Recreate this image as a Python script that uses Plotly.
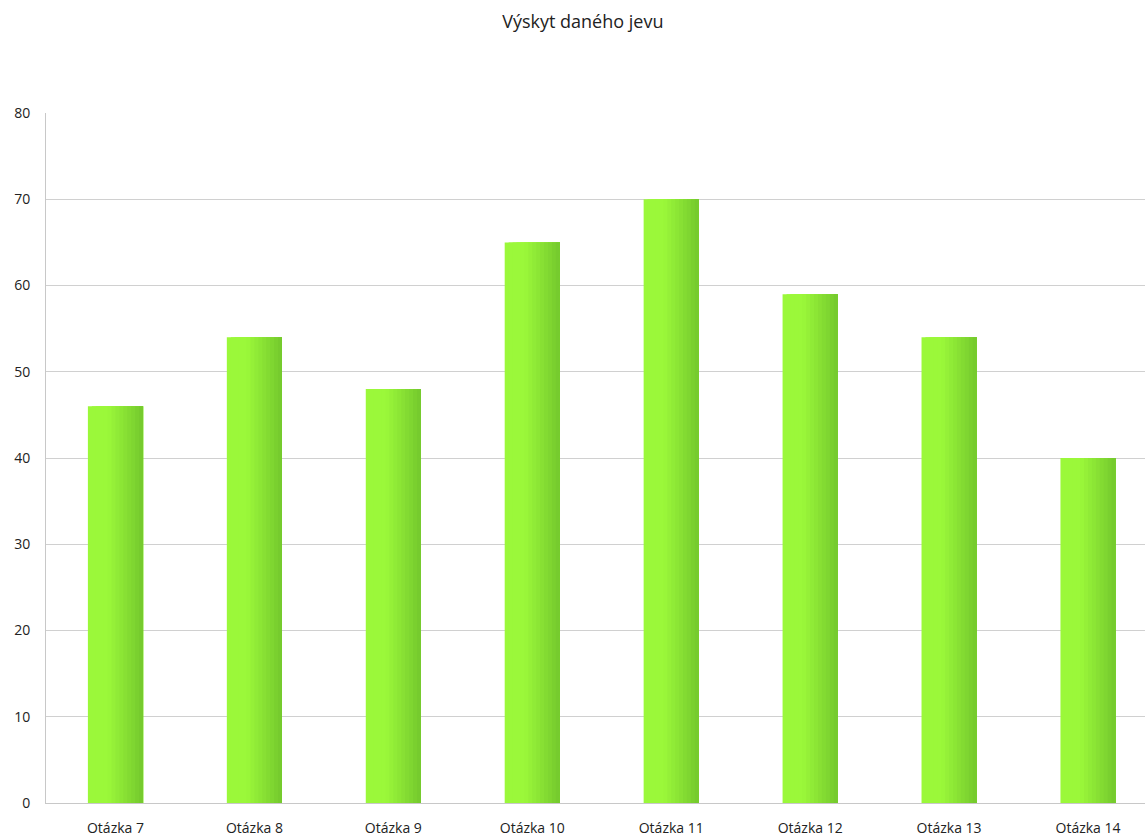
import plotly.graph_objects as go

categories = ["Otázka 7", "Otázka 8", "Otázka 9", "Otázka 10", "Otázka 11", "Otázka 12", "Otázka 13", "Otázka 14"]
values = [46, 54, 48, 65, 70, 59, 54, 40]
y_ticks = [0, 10, 20, 30, 40, 50, 60, 70, 80]

# horizontal gradient emulated by overlaid slices, each extending to the bar's right edge
light = (0x9B, 0xF8, 0x3A)
dark = (0x76, 0xCB, 0x2E)
n_slices = 14
bar_width = 0.397

fig = go.Figure()
for i in range(n_slices):
    t = i / (n_slices - 1)
    f = 0 if t < 0.35 else (t - 0.35) / 0.65
    c = tuple(round(light[k] + (dark[k] - light[k]) * f) for k in range(3))
    w = bar_width / n_slices
    fig.add_trace(go.Bar(
        x=categories, y=values,
        width=bar_width - i * w, offset=-bar_width / 2 + i * w,
        marker=dict(color="rgb(%d,%d,%d)" % c, line=dict(width=0)),
        showlegend=False, hoverinfo="skip" if i else "x+y",
    ))

fig.update_layout(
    width=1145, height=838,
    barmode="overlay",
    plot_bgcolor="white", paper_bgcolor="white",
    margin=dict(l=46, r=0, t=113, b=35),
    font=dict(family="Open Sans, Noto Sans, sans-serif", size=14, color="#222222"),
    title=dict(text="Výskyt daného jevu", x=0.509, xanchor="center", y=0.974, yanchor="middle",
               font=dict(size=18, color="#222222")),
)
fig.update_yaxes(range=[0, 80], tickvals=y_ticks, showgrid=True, gridcolor="#d0d0d0", gridwidth=1,
                 showline=True, linecolor="#c8c8c8", linewidth=1, ticks="", ticklabelstandoff=12,
                 zeroline=False, tickfont=dict(size=14))
fig.update_xaxes(range=[-0.5, 7.41], showline=True, linecolor="#c8c8c8", linewidth=1, ticks="",
                 ticklabelstandoff=12, tickfont=dict(size=14))

fig.write_html("out.html")
